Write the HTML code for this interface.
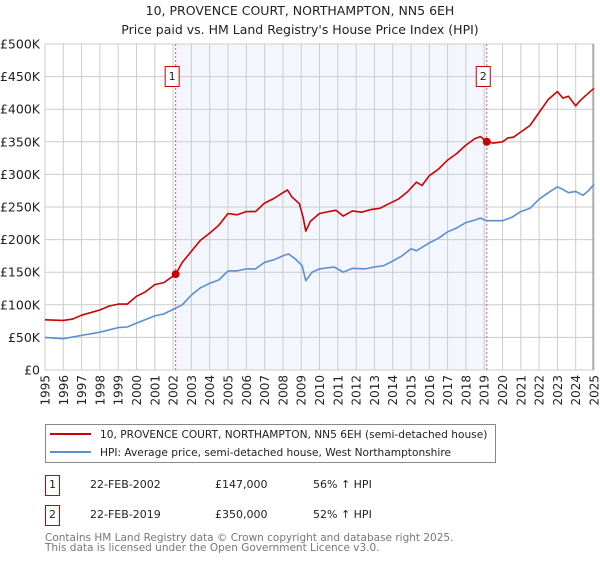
<!DOCTYPE html>
<html><head><meta charset="utf-8">
<style>
body{margin:0;background:#fff;font-family:"Liberation Sans","DejaVu Sans",sans-serif;}
svg text{font-family:"DejaVu Sans","Liberation Sans",sans-serif;}
</style></head>
<body>
<svg id="chart" width="600" height="560" xmlns="http://www.w3.org/2000/svg">
<text x="300" y="15" text-anchor="middle" font-size="12.5" fill="#222">10, PROVENCE COURT, NORTHAMPTON, NN5 6EH</text>
<text x="300" y="34" text-anchor="middle" font-size="12.5" fill="#222">Price paid vs. HM Land Registry's House Price Index (HPI)</text>
<g id="plot"></g>
<g>
<rect x="45.5" y="424.5" width="450" height="38" fill="#fff" stroke="#888"/>
<line x1="50" y1="434" x2="91" y2="434" stroke="#cc0000" stroke-width="2"/>
<text x="100" y="438" font-size="10.6" fill="#222">10, PROVENCE COURT, NORTHAMPTON, NN5 6EH (semi-detached house)</text>
<line x1="50" y1="452" x2="91" y2="452" stroke="#5b8fd4" stroke-width="2"/>
<text x="100" y="456" font-size="10.6" fill="#222">HPI: Average price, semi-detached house, West Northamptonshire</text>
</g>
<g font-size="11" fill="#222">
<rect x="45.5" y="475.5" width="14" height="20" fill="none" stroke="#cc0000"/>
<text x="52.5" y="488" text-anchor="middle">1</text>
<text x="90" y="488">22-FEB-2002</text>
<text x="215" y="488">£147,000</text>
<text x="313" y="488">56% ↑ HPI</text>
</g>
<g font-size="11" fill="#222">
<rect x="45.5" y="505.5" width="14" height="20" fill="none" stroke="#cc0000"/>
<text x="52.5" y="518" text-anchor="middle">2</text>
<text x="90" y="518">22-FEB-2019</text>
<text x="215" y="518">£350,000</text>
<text x="313" y="518">52% ↑ HPI</text>
</g>
<text x="45" y="541" font-size="10.5" fill="#777">Contains HM Land Registry data © Crown copyright and database right 2025.</text>
<text x="45" y="551" font-size="10.5" fill="#777">This data is licensed under the Open Government Licence v3.0.</text>
</svg>
<script>
const yTicks=[0,50,100,150,200,250,300,350,400,450,500];
const yTickLabels=["£0","£50K","£100K","£150K","£200K","£250K","£300K","£350K","£400K","£450K","£500K"];
const years=[1995,1996,1997,1998,1999,2000,2001,2002,2003,2004,2005,2006,2007,2008,2009,2010,2011,2012,2013,2014,2015,2016,2017,2018,2019,2020,2021,2022,2023,2024,2025];
const saleDates=[2002.14,2019.14];
const salePrices=[147,350];
const saleLabels=["1","2"];
const propT=[1995,1996,1996.5,1997,1998,1998.5,1999,1999.5,2000,2000.5,2001,2001.5,2002.14,2002.5,2003,2003.5,2004,2004.5,2005,2005.5,2006,2006.5,2007,2007.5,2008,2008.25,2008.5,2008.9,2009.1,2009.25,2009.5,2010,2010.5,2010.9,2011.3,2011.8,2012.3,2012.8,2013.3,2013.8,2014.3,2014.8,2015.3,2015.6,2016,2016.5,2017,2017.5,2018,2018.5,2018.8,2019.14,2019.5,2020,2020.3,2020.6,2021,2021.5,2022,2022.5,2023,2023.3,2023.6,2024,2024.2,2024.5,2025];
const propV=[77,76,78,84,92,98,101,101,113,120,131,134,147,165,182,199,210,222,240,238,243,243,256,263,272,276,265,255,235,213,228,240,243,245,236,244,242,246,248,255,262,273,288,283,298,308,322,332,345,355,358,350,348,350,356,357,365,375,395,415,427,417,420,405,412,420,432];
const hpiT=[1995,1996,1997,1998,1999,1999.5,2000,2001,2001.5,2002,2002.5,2003,2003.5,2004,2004.5,2005,2005.5,2006,2006.5,2007,2007.5,2008,2008.3,2008.7,2009.05,2009.25,2009.6,2010,2010.8,2011.3,2011.8,2012.5,2013,2013.5,2014,2014.5,2015,2015.3,2016,2016.5,2017,2017.5,2018,2018.5,2018.8,2019.14,2019.5,2020,2020.5,2021,2021.5,2022,2022.5,2023,2023.3,2023.6,2024,2024.4,2024.7,2025];
const hpiV=[50,48,53,58,65,66,72,83,86,93,100,115,126,133,138,152,152,155,155,165,169,175,178,170,160,137,150,155,158,150,156,155,158,160,167,175,186,183,195,202,212,218,226,230,233,229,229,229,234,243,248,262,272,281,277,272,274,268,275,285];

const X0=45,X1=594,Y0=370,Y1=44;
function xs(t){return X0+(t-1995)/(2025-1995)*(X1-X0);}
function ys(v){return Y0-v/500*(Y0-Y1);}
const NS="http://www.w3.org/2000/svg";
const g=document.getElementById('plot');
function mk(tag,attrs,parent){const e=document.createElementNS(NS,tag);for(const k in attrs)e.setAttribute(k,attrs[k]);(parent||g).appendChild(e);return e;}

const shade=mk('rect',{x:xs(saleDates[0]),y:Y1,width:xs(saleDates[1])-xs(saleDates[0]),height:Y0-Y1,fill:'#f3f6fd'});



years.forEach(y=>{
  const l=mk('line',{x1:xs(y),x2:xs(y),y1:Y1,y2:Y0,stroke:'#cccccc','stroke-width':1});
  
  
  const t=mk('text',{x:0,y:0,'font-size':12,fill:'#222','text-anchor':'end',transform:`translate(${xs(y)+4.5},375) rotate(-90)`});
  t.textContent=y;
  
  
});
yTicks.forEach((v,i)=>{
  const l=mk('line',{x1:X0,x2:X1,y1:ys(v),y2:ys(v),stroke:'#cccccc','stroke-width':1});
  
  
  const t=mk('text',{x:40,y:ys(v)+4.5,'font-size':12.5,fill:'#222','text-anchor':'end'});
  t.textContent=yTickLabels[i];
  
  
});
const endLine=mk('line',{x1:X1-1,x2:X1-1,y1:Y1,y2:Y0,stroke:'#888','stroke-width':1});



saleDates.forEach((d,i)=>{
  const l=mk('line',{x1:xs(d),x2:xs(d),y1:Y1,y2:Y0,stroke:'#e06060','stroke-width':1,'stroke-dasharray':'2,2'});
  
  
});

function path(T,V,color,name){
  let d='';T.forEach((t,i)=>{d+=(i?'L':'M')+xs(t).toFixed(1)+','+ys(V[i]).toFixed(1);});
  const p=mk('path',{d:d,fill:'none',stroke:color,'stroke-width':1.6,'stroke-linejoin':'round'});
  
  
}
path(hpiT,hpiV,'#5b8fd4','hpi-line');
path(propT,propV,'#cc0000','property-price-line');

saleDates.forEach((d,i)=>{
  const c=mk('circle',{cx:xs(d),cy:ys(salePrices[i]),r:4,fill:'#cc0000'});
  
  
  const r=mk('rect',{x:xs(d)-10.5,y:66.5,width:14,height:20,fill:'#fff',stroke:'#cc0000'});
  
  
  const t=mk('text',{x:xs(d)-3.5,y:80,'font-size':11,fill:'#222','text-anchor':'middle'});
  t.textContent=saleLabels[i];
  
  
});
</script>
</body></html>
